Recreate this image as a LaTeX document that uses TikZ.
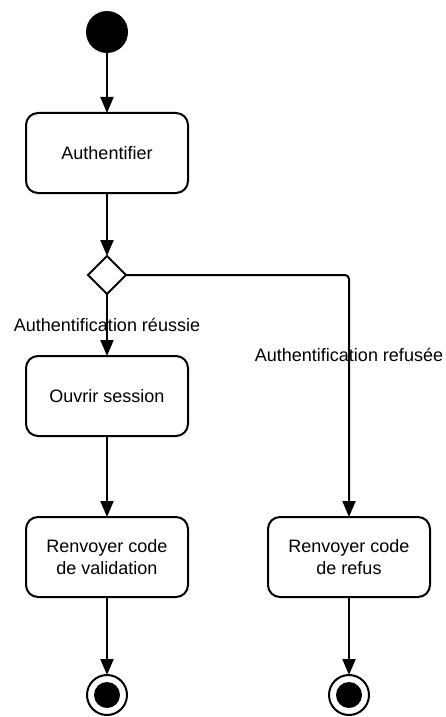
\documentclass[tikz,border=0pt]{standalone}
\usepackage{fontspec}
\setmainfont{Liberation Sans}
\usetikzlibrary{shapes.geometric, arrows}
\usetikzlibrary{positioning, arrows.meta}

\begin{document}
\begin{tikzpicture}[
        font=\fontsize{9pt}{11pt}\selectfont,
        node distance=30pt,
        debut/.style={circle, fill=black, minimum size=21pt, inner sep=0pt, outer sep=0pt},
        fin/.style={circle, draw=black, line width=1pt, minimum size=20pt, inner sep=0pt, outer sep=0pt,
            path picture={\fill[black] (path picture bounding box.center) circle (6.5pt);}},
        activite/.style={rectangle, rounded corners=6pt, minimum width=81pt, minimum height=40pt, text centered, align=center, draw=black, line width=1pt, outer sep=0pt},
        decision/.style={diamond, minimum width=19pt, minimum height=19pt, inner sep=0pt, outer sep=0pt, draw=black, line width=1pt},
        arrow/.style={line width=1pt, -{Triangle[length=8pt, width=6.5pt]}}
    ]
        \useasboundingbox (0,0) rectangle (222.5pt,-358.5pt);

        % ===== flux principal =====
        \node (start) [debut] at (53.5pt,-16pt) {};
        \node (auth) [activite, below=30pt of start] {Authentifier};
        \node (choix) [decision, below=31.5pt of auth] {};
        \node (session) [activite, below=31pt of choix] {Ouvrir session};
        \node (validation) [activite, below=40.5pt of session] {Renvoyer code\\de validation};
        \node (finOk) [fin, below=39pt of validation] {};

        % ===== branche refus =====
        \node (refus) [activite, right=40pt of validation] {Renvoyer code\\de refus};
        \node (finRefus) [fin, below=39pt of refus] {};

        % ===== fleches =====
        \draw [arrow] (start) -- (auth);
        \draw [arrow] (auth) -- (choix);
        \draw [arrow] (choix.south) -- node {Authentification réussie} (session.north);
        \draw [arrow] (session) -- (validation);
        \draw [arrow] (validation) -- (finOk);

        \draw [arrow, rounded corners=2pt] (choix.east) -| node[pos=0.665] {Authentification refusée} (refus.north);
        \draw [arrow] (refus) -- (finRefus);

    \end{tikzpicture}
\end{document}
